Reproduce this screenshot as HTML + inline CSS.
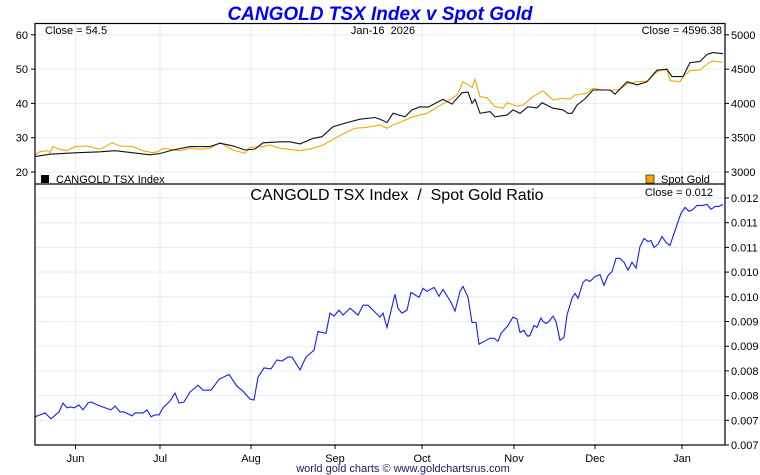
<!DOCTYPE html>
<html><head><meta charset="utf-8"><style>
html,body{margin:0;padding:0;background:#fff;}
svg{display:block;font-family:"Liberation Sans",Arial,sans-serif;}
text{white-space:pre;}
</style></head><body>
<svg id="chart" width="760" height="475" xmlns="http://www.w3.org/2000/svg">
<text x="380" y="20" text-anchor="middle" font-size="19" font-weight="bold" font-style="italic" fill="#0000ff">CANGOLD TSX Index v Spot Gold</text>
<g id="grid"></g>
<g id="series"></g>
<g id="axes"></g>
<text x="45" y="34" font-size="11" fill="#000">Close = 54.5</text>
<text x="383" y="34" font-size="11" fill="#000" text-anchor="middle" xml:space="preserve">Jan-16  2026</text>
<text x="722" y="34" font-size="11" fill="#000" text-anchor="end">Close = 4596.38</text>
<rect x="41" y="175" width="8" height="8" fill="#000"/>
<text x="56" y="183" font-size="11">CANGOLD TSX Index</text>
<rect x="646" y="175" width="8" height="8" fill="#f5a800" stroke="#000" stroke-width="0.6"/>
<text x="661" y="183" font-size="11">Spot Gold</text>
<text x="397" y="200" font-size="16" text-anchor="middle" xml:space="preserve">CANGOLD TSX Index  /  Spot Gold Ratio</text>
<text x="713" y="196" font-size="11" text-anchor="end">Close = 0.012</text>
<text x="403" y="472" font-size="11" text-anchor="middle" fill="#1a1a6e">world gold charts © www.goldchartsrus.com</text>
</svg>
<script>
const monthLabels=["Jun","Jul","Aug","Sep","Oct","Nov","Dec","Jan"];
const monthT=[40.5,125,216,300,387,479,560,647];
const leftTicks=[20,30,40,50,60];
const rightTicks=[3000,3500,4000,4500,5000];
const ratioTicks=[0.007,0.0075,0.008,0.0085,0.009,0.0095,0.010,0.0105,0.011,0.0115,0.012];
const indexT=[0,15,40,65,80,98,115,125,138,155,175,185,198,210,220,228,245,255,265,278,287,298,312,325,340,345,352,358,370,377,385,393,408,417,427,433,437,440,445,455,460,472,478,485,493,502,507,518,528,533,537,542,550,558,575,580,592,602,612,622,632,637,648,655,665,672,678,688];
const indexVals=[24.5,25.2,25.6,25.9,26.2,25.6,25.0,25.4,26.4,27.4,27.4,28.4,27.6,26.4,26.7,28.5,28.8,28.8,28.2,29.8,30.3,33.2,34.4,35.4,35.9,35.4,34.4,37.1,36.1,38.1,39.0,38.9,41.2,39.8,43.1,43.3,40.0,41.2,37.1,37.6,36.1,36.6,38.1,37.1,39.0,38.7,40.2,38.6,38.1,37.1,37.1,39.5,41.3,43.9,43.9,42.7,46.3,45.4,46.3,49.7,49.9,47.8,47.8,51.9,52.2,54.3,54.8,54.5];
const goldT=[0,5,12,15,18,25,32,40,52,65,77,85,98,108,117,123,128,135,145,155,165,175,185,198,210,215,228,235,245,265,278,288,298,308,320,332,345,352,358,368,378,392,403,412,422,428,437,440,445,452,460,468,472,482,488,498,508,518,527,535,540,552,558,568,578,585,593,603,612,622,632,635,645,648,655,665,673,678,688];
const goldVals=[3248,3296,3311,3282,3369,3331,3311,3369,3379,3331,3427,3379,3369,3311,3282,3296,3345,3331,3311,3345,3331,3345,3427,3321,3272,3360,3369,3394,3345,3311,3345,3394,3476,3554,3637,3652,3685,3637,3685,3744,3806,3856,3952,4025,4123,4317,4235,4352,4098,4083,3952,3929,4010,3962,3977,4098,4185,4050,4075,4064,4123,4147,4220,4196,4196,4206,4293,4317,4327,4462,4512,4331,4317,4390,4477,4487,4585,4618,4596];
const ratioT=[0,5,10,16,24,28,32,36,39,44,48,53,56,65,76,80,85,89,97,100,108,112,116,120,124,128,135,140,144,149,155,163,168,176,184,194,202,208,215,219,223,229,236,242,247,253,257,265,271,279,283,291,295,299,304,308,315,323,328,333,345,348,352,360,363,367,372,376,384,388,392,399,404,408,416,420,425,428,433,437,441,444,451,455,459,463,466,473,478,482,485,489,491,493,495,499,502,506,508,511,514,518,521,525,529,532,537,540,543,548,551,555,560,565,569,573,577,581,585,589,593,597,601,605,609,613,616,619,623,627,631,635,640,646,650,654,658,662,668,672,676,680,684,688];
const ratioVals=[.00757,.00761,.00765,.00753,.00767,.00785,.00775,.00777,.00775,.00781,.00771,.00785,.00787,.00779,.00771,.00779,.00767,.00767,.00759,.00765,.00765,.00771,.00757,.00761,.00761,.00775,.00789,.00805,.00785,.00787,.00807,.00821,.00811,.00811,.00833,.00843,.00819,.00809,.00793,.00791,.00837,.00856,.00854,.00872,.00870,.00878,.00878,.00852,.00878,.00892,.00930,.00926,.00967,.00961,.00973,.00963,.00977,.00963,.00983,.00983,.00959,.00967,.00938,.01005,.00977,.00967,.00973,.01009,.00999,.01017,.01011,.01019,.01001,.01015,.00989,.00971,.01011,.01021,.00999,.00948,.00948,.00904,.00912,.00916,.00916,.00910,.00926,.00942,.00959,.00955,.00928,.00932,.00924,.00920,.00922,.00942,.00938,.00957,.00950,.00946,.00950,.00961,.00950,.00912,.00918,.00963,.00997,.01007,.00997,.01029,.01035,.01031,.01041,.01045,.01023,.01043,.01051,.01078,.01078,.01070,.01054,.01070,.01058,.01102,.01118,.01112,.01114,.01100,.01106,.01122,.01110,.01104,.01134,.01169,.01181,.01173,.01177,.01185,.01185,.01187,.01177,.01183,.01183,.01187];

const NS="http://www.w3.org/2000/svg";
const L=35,R=725,T1=23.5,B1=184,B2=445;
const xT=t=>L+t;
const yIdx=v=>172-(v-20)*3.43;
const yGold=v=>172-(v-3000)*0.0686;
const yRatio=v=>445-(v-0.007)*49400;
function mk(tag,attrs,parent,text){const e=document.createElementNS(NS,tag);for(const k in attrs)e.setAttribute(k,attrs[k]);if(text!==undefined)e.textContent=text;parent.appendChild(e);return e;}
const grid=document.getElementById('grid'),ser=document.getElementById('series'),ax=document.getElementById('axes');
const gc="#e3eef9";
monthT.forEach((t,i)=>{
  const g=mk('line',{x1:xT(t),x2:xT(t),y1:T1,y2:B2,stroke:gc},grid);
  
  
  const tk=mk('line',{x1:xT(t),x2:xT(t),y1:B2,y2:B2+4,stroke:"#000"},ax);
  
  
  const lb=mk('text',{x:xT(t),y:462,'font-size':11,'text-anchor':'middle'},ax,monthLabels[i]);
  
  
});
leftTicks.forEach(v=>{
  const y=yIdx(v);
  const g=mk('line',{x1:L,x2:R,y1:y,y2:y,stroke:gc},grid);
  
  
  mk('line',{x1:L-4,x2:L,y1:y,y2:y,stroke:"#000"},ax);
  const lb=mk('text',{x:L-7,y:y+4,'font-size':11,'text-anchor':'end'},ax,String(v));
  
  
});
rightTicks.forEach(v=>{
  const y=yGold(v);
  mk('line',{x1:R,x2:R+4,y1:y,y2:y,stroke:"#000"},ax);
  const lb=mk('text',{x:R+6,y:y+4,'font-size':11},ax,String(v));
  
  
});
ratioTicks.forEach(v=>{
  const y=yRatio(v);
  const g=mk('line',{x1:L,x2:R,y1:y,y2:y,stroke:gc},grid);
  
  
  mk('line',{x1:R,x2:R+4,y1:y,y2:y,stroke:"#000"},ax);
  const lb=mk('text',{x:R+6,y:y+4,'font-size':11},ax,(Math.floor(v*1000+1e-9)/1000).toFixed(3));
  
  
});
const pg=mk('polyline',{points:goldT.map((t,i)=>xT(t)+","+yGold(goldVals[i]).toFixed(1)).join(" "),fill:"none",stroke:"#f5a800","stroke-width":1.1},ser);


const pi=mk('polyline',{points:indexT.map((t,i)=>xT(t)+","+yIdx(indexVals[i]).toFixed(1)).join(" "),fill:"none",stroke:"#111","stroke-width":1.1},ser);


const pr=mk('polyline',{points:ratioT.map((t,i)=>xT(t)+","+yRatio(ratioVals[i]).toFixed(1)).join(" "),fill:"none",stroke:"#1a1aff","stroke-width":1.1},ser);


const fr=mk('rect',{x:L,y:T1,width:R-L,height:B2-T1,fill:"none",stroke:"#000","stroke-width":1.2},ax);


const dv=mk('line',{x1:L,x2:R,y1:B1,y2:B1,stroke:"#000","stroke-width":1.2},ax);


</script>
</body></html>
